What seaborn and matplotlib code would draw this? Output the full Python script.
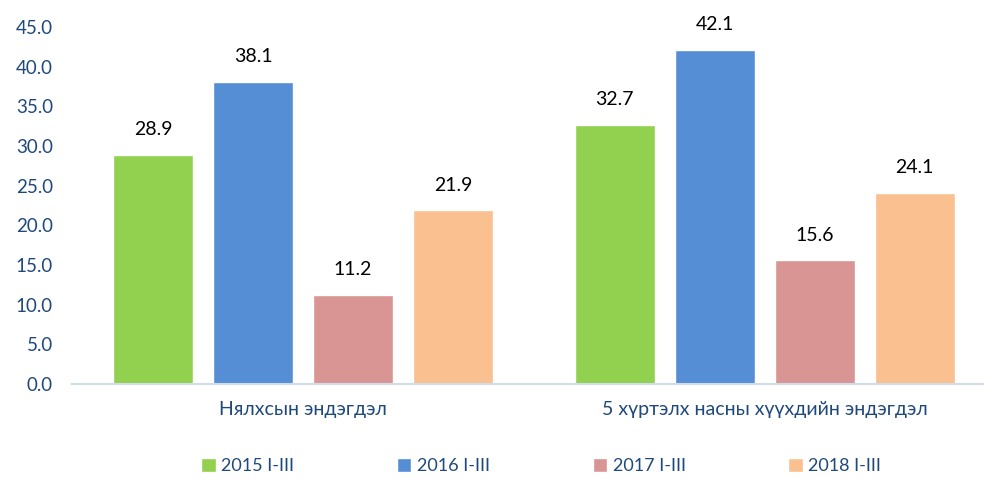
import matplotlib
matplotlib.use("Agg")
import matplotlib.pyplot as plt
import seaborn as sns
import pandas as pd

sns.set_style("white")
plt.rcParams['font.family'] = ['Lato', 'DejaVu Sans']

categories = ["Нялхсын эндэгдэл", "5 хүртэлх насны хүүхдийн эндэгдэл"]
periods = ["2015 I-III", "2016 I-III", "2017 I-III", "2018 I-III"]
v2015 = [28.9, 32.7]
v2016 = [38.1, 42.1]
v2017 = [11.2, 15.6]
v2018 = [21.9, 24.1]
colors = ["#92D050", "#558ED5", "#D99594", "#FAC090"]

rows = []
for p, vals in zip(periods, [v2015, v2016, v2017, v2018]):
    for c, v in zip(categories, vals):
        rows.append({"cat": c, "period": p, "value": v})
df = pd.DataFrame(rows)

fig = plt.figure(figsize=(9.84, 4.79), dpi=100)
ax = fig.add_axes([0.0735, 0.1983, 0.938, 0.7453])

sns.barplot(data=df, x="cat", y="value", hue="period", palette=colors,
            width=0.867, gap=0.2, saturation=1, ax=ax, legend=True)

for cont in ax.containers:
    ax.bar_label(cont, fmt="%.1f", padding=12, fontsize=14, color="black")

ax.set_ylim(0, 45)
ax.set_xlim(-0.5, 1.5)
ax.set_yticks([0, 5, 10, 15, 20, 25, 30, 35, 40, 45])
ax.set_yticklabels([f"{t:.1f}" for t in ax.get_yticks()])
ax.tick_params(axis="y", colors="#1F497D", labelsize=13.5, length=0, pad=14)
ax.tick_params(axis="x", colors="#1F497D", labelsize=14, length=0, pad=12)
ax.set_xlabel("")
ax.set_ylabel("")
for s in ["left", "right", "top"]:
    ax.spines[s].set_visible(False)
ax.spines["bottom"].set_color("#D0DCEA")
ax.spines["bottom"].set_linewidth(1.5)

handles, labels = ax.get_legend_handles_labels()
ax.legend_.remove()
leg = fig.legend(handles, labels, loc="center", bbox_to_anchor=(0.55, 0.027),
                 ncol=4, frameon=False, fontsize=13, handlelength=0.8,
                 handleheight=0.8, handletextpad=0.3, columnspacing=5.7)
for t in leg.get_texts():
    t.set_color("#1F497D")

fig.savefig("out.png", dpi=100)
